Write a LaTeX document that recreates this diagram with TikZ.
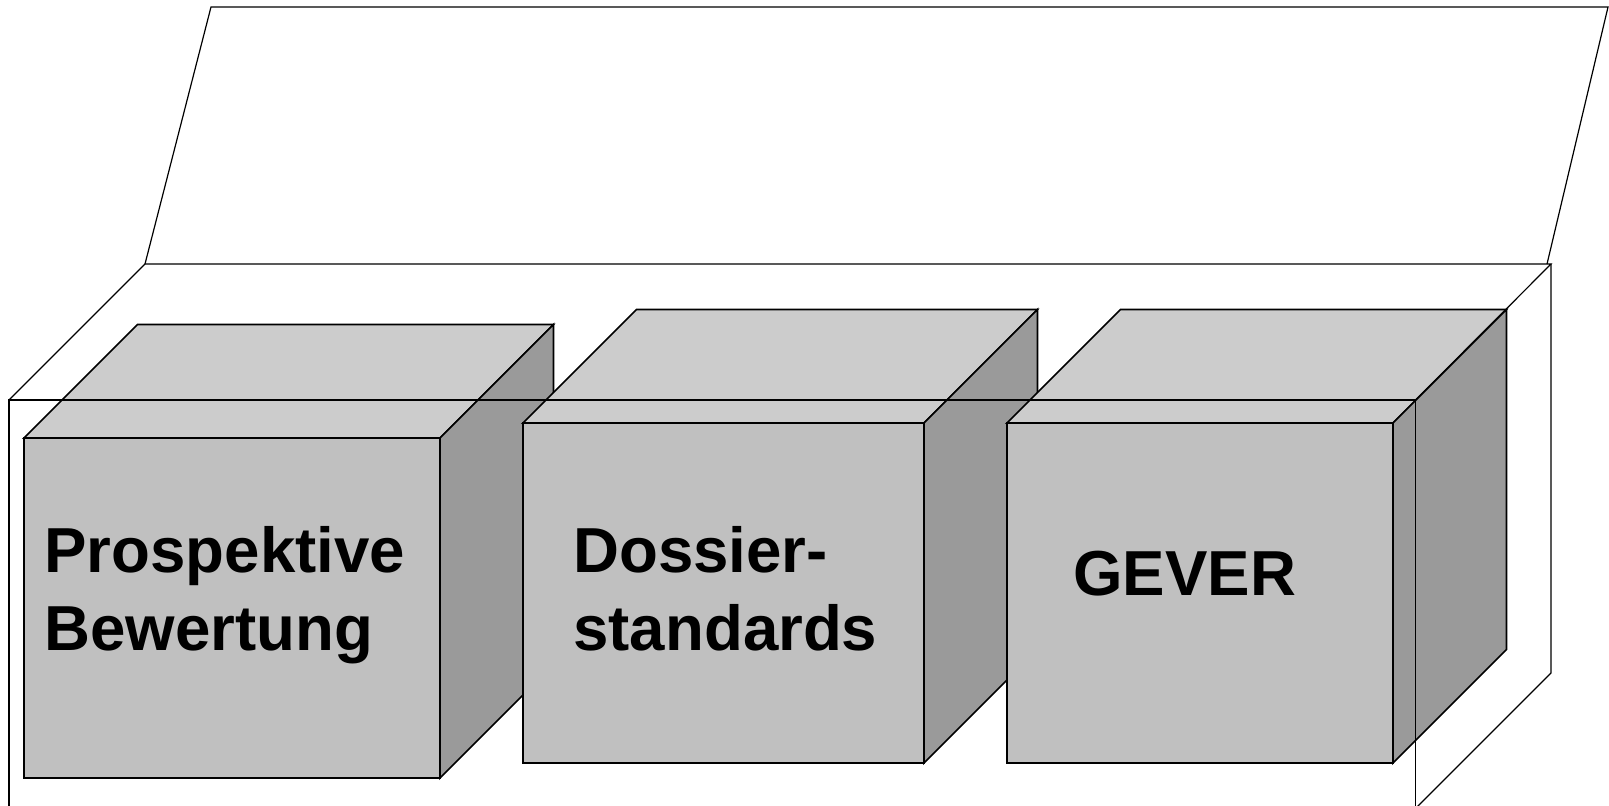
\documentclass[tikz,border=0pt]{standalone}
\usepackage{fontspec}
\setmainfont{Liberation Sans}
\definecolor{frontgray}{HTML}{C0C0C0}
\definecolor{topgray}{HTML}{CCCCCC}
\definecolor{sidegray}{HTML}{9A9A9A}
\tikzset{
  face/.style={draw=black, line width=0.85pt},
  frame/.style={draw=black, line width=0.6pt},
  cubetext/.style={font=\bfseries\fontsize{31.8}{39}\selectfont,
    inner sep=0pt, anchor=base west, align=left},
}
\begin{document}
\begin{tikzpicture}[x=0.5pt, y=-0.5pt]
  \clip (0,0) rectangle (1609,806);
  % Lid
  \draw[frame] (145,264) -- (211,7) -- (1608,7) -- (1547,264);

  % Cubes (left, right, top of front face)
  \foreach \lx/\rx/\ty in {24/440/438, 523/924/423, 1007/1393/423} {
    % Front face
    \filldraw[face, fill=frontgray] (\lx,\ty) rectangle (\rx,\ty+340);
    % Top face
    \filldraw[face, fill=topgray] (\lx,\ty) -- (\lx+113.5,\ty-113.5)
      -- (\rx+113.5,\ty-113.5) -- (\rx,\ty) -- cycle;
    % Side face
    \filldraw[face, fill=sidegray] (\rx,\ty) -- (\rx+113.5,\ty-113.5)
      -- (\rx+113.5,\ty+226.5) -- (\rx,\ty+340) -- cycle;
  }

  % Texts (base = last line)
  \node[cubetext] (prosp) at (44,650) {Prospektive\\Bewertung};
  \node[cubetext] (dossier) at (573,650) {Dossier-\\standards};
  \node[cubetext] (gever) at (1073,595) {GEVER};

  % Open box
  \draw[frame] (9,400) rectangle (1415.5,808.5);
  \draw[frame] (9,400) -- (145,264) -- (1551,264) -- (1415.5,400);
  \draw[frame] (1551,264) -- (1551,673) -- (1415.5,808.5);
\end{tikzpicture}
\end{document}
